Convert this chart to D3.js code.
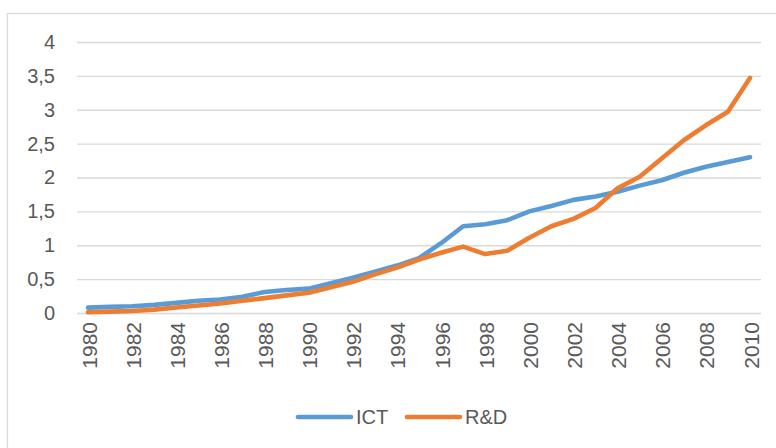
<!DOCTYPE html>
<html>
<head>
<meta charset="utf-8">
<script src="https://cdn.jsdelivr.net/npm/d3@7"></script>
<style>
  body { margin: 0; background: #fff; }
  #root { width: 776px; height: 448px; }
  text { fill: #595959; }
</style>
</head>
<body>
<div id="root"></div>
<script>
const years = d3.range(1980, 2011);
const ictValues = [
  0.08, 0.09, 0.10, 0.12, 0.15, 0.18, 0.20, 0.24, 0.31, 0.34,
  0.36, 0.44, 0.52, 0.61, 0.70, 0.81, 1.03, 1.28, 1.31, 1.37,
  1.50, 1.58, 1.67, 1.72, 1.79, 1.88, 1.96, 2.07, 2.16, 2.23, 2.30
];
const rdValues = [
  0.01, 0.02, 0.03, 0.05, 0.08, 0.11, 0.14, 0.18, 0.22, 0.26,
  0.30, 0.38, 0.46, 0.57, 0.67, 0.79, 0.89, 0.98, 0.87, 0.92,
  1.11, 1.28, 1.39, 1.55, 1.84, 2.01, 2.28, 2.55, 2.77, 2.97, 3.47
];
const yTicks = [0, 0.5, 1, 1.5, 2, 2.5, 3, 3.5, 4];
const xTickYears = years.filter((y) => y % 2 === 0);

const series = [
  { name: 'ICT', values: ictValues, color: '#5b9bd5' },
  { name: 'R&D', values: rdValues, color: '#ed7d31' },
];

const width = 776, height = 448;

const svg = d3.select('#root').append('svg')
  .attr('width', width)
  .attr('height', height);

// chart area border
svg.append('rect')
  .attr('x', 7.5).attr('y', 13.5)
  .attr('width', width + 10).attr('height', height + 10)
  .attr('fill', 'none')
  .attr('stroke', '#d9d9d9')
  .attr('stroke-width', 1.3);

const x = d3.scaleBand()
  .domain(years)
  .range([77, 761]);

const y = d3.scaleLinear()
  .domain([0, 4])
  .range([313, 42]);

// gridlines + y labels
const yAxis = d3.axisLeft(y)
  .tickValues(yTicks)
  .tickSize(-(761 - 77))
  .tickPadding(22)
  .tickFormat((d) => String(d).replace('.', ','));

svg.append('g')
  .attr('transform', 'translate(77,0)')
  .call(yAxis)
  .call((g) => g.select('.domain').remove())
  .call((g) => g.selectAll('line').attr('stroke', '#d9d9d9').attr('stroke-width', 1.3))
  .call((g) => g.selectAll('text')
    .attr('fill', '#595959')
    .style('font-family', '"Liberation Sans", Arial, sans-serif')
    .style('font-size', '20px'));

// x labels, rotated
svg.append('g')
  .selectAll('text')
  .data(xTickYears)
  .enter()
  .append('text')
    .attr('transform', (d) => 'translate(' + (x(d) + x.bandwidth() / 2 + 1) + ',322) rotate(-90)')
    .attr('text-anchor', 'end')
    .attr('dy', '0.36em')
    .style('font-family', '"Liberation Sans Narrow", "Liberation Sans", Arial, sans-serif')
    .style('font-size', '21px')
    .text((d) => d);

const line = d3.line()
  .x((d, i) => x(years[i]) + x.bandwidth() / 2)
  .y((d) => y(d));

svg.append('g')
  .selectAll('path')
  .data(series)
  .enter()
  .append('path')
    .attr('d', (d) => line(d.values))
    .attr('fill', 'none')
    .attr('stroke', (d) => d.color)
    .attr('stroke-width', 4.6)
    .attr('stroke-linejoin', 'round')
    .attr('stroke-linecap', 'round');

// legend
const legendX = [298, 407];
const legend = svg.append('g')
  .selectAll('g')
  .data(series)
  .enter()
  .append('g')
    .attr('transform', (d, i) => 'translate(' + legendX[i] + ',417)');

legend.append('line')
  .attr('x1', 0).attr('x2', 53)
  .attr('stroke', (d) => d.color)
  .attr('stroke-width', 4.6)
  .attr('stroke-linecap', 'round');

legend.append('text')
  .attr('x', 58)
  .attr('y', 7)
  .style('font-family', '"Liberation Sans", Arial, sans-serif')
  .style('font-size', '20px')
  .text((d) => d.name);
</script>
</body>
</html>
